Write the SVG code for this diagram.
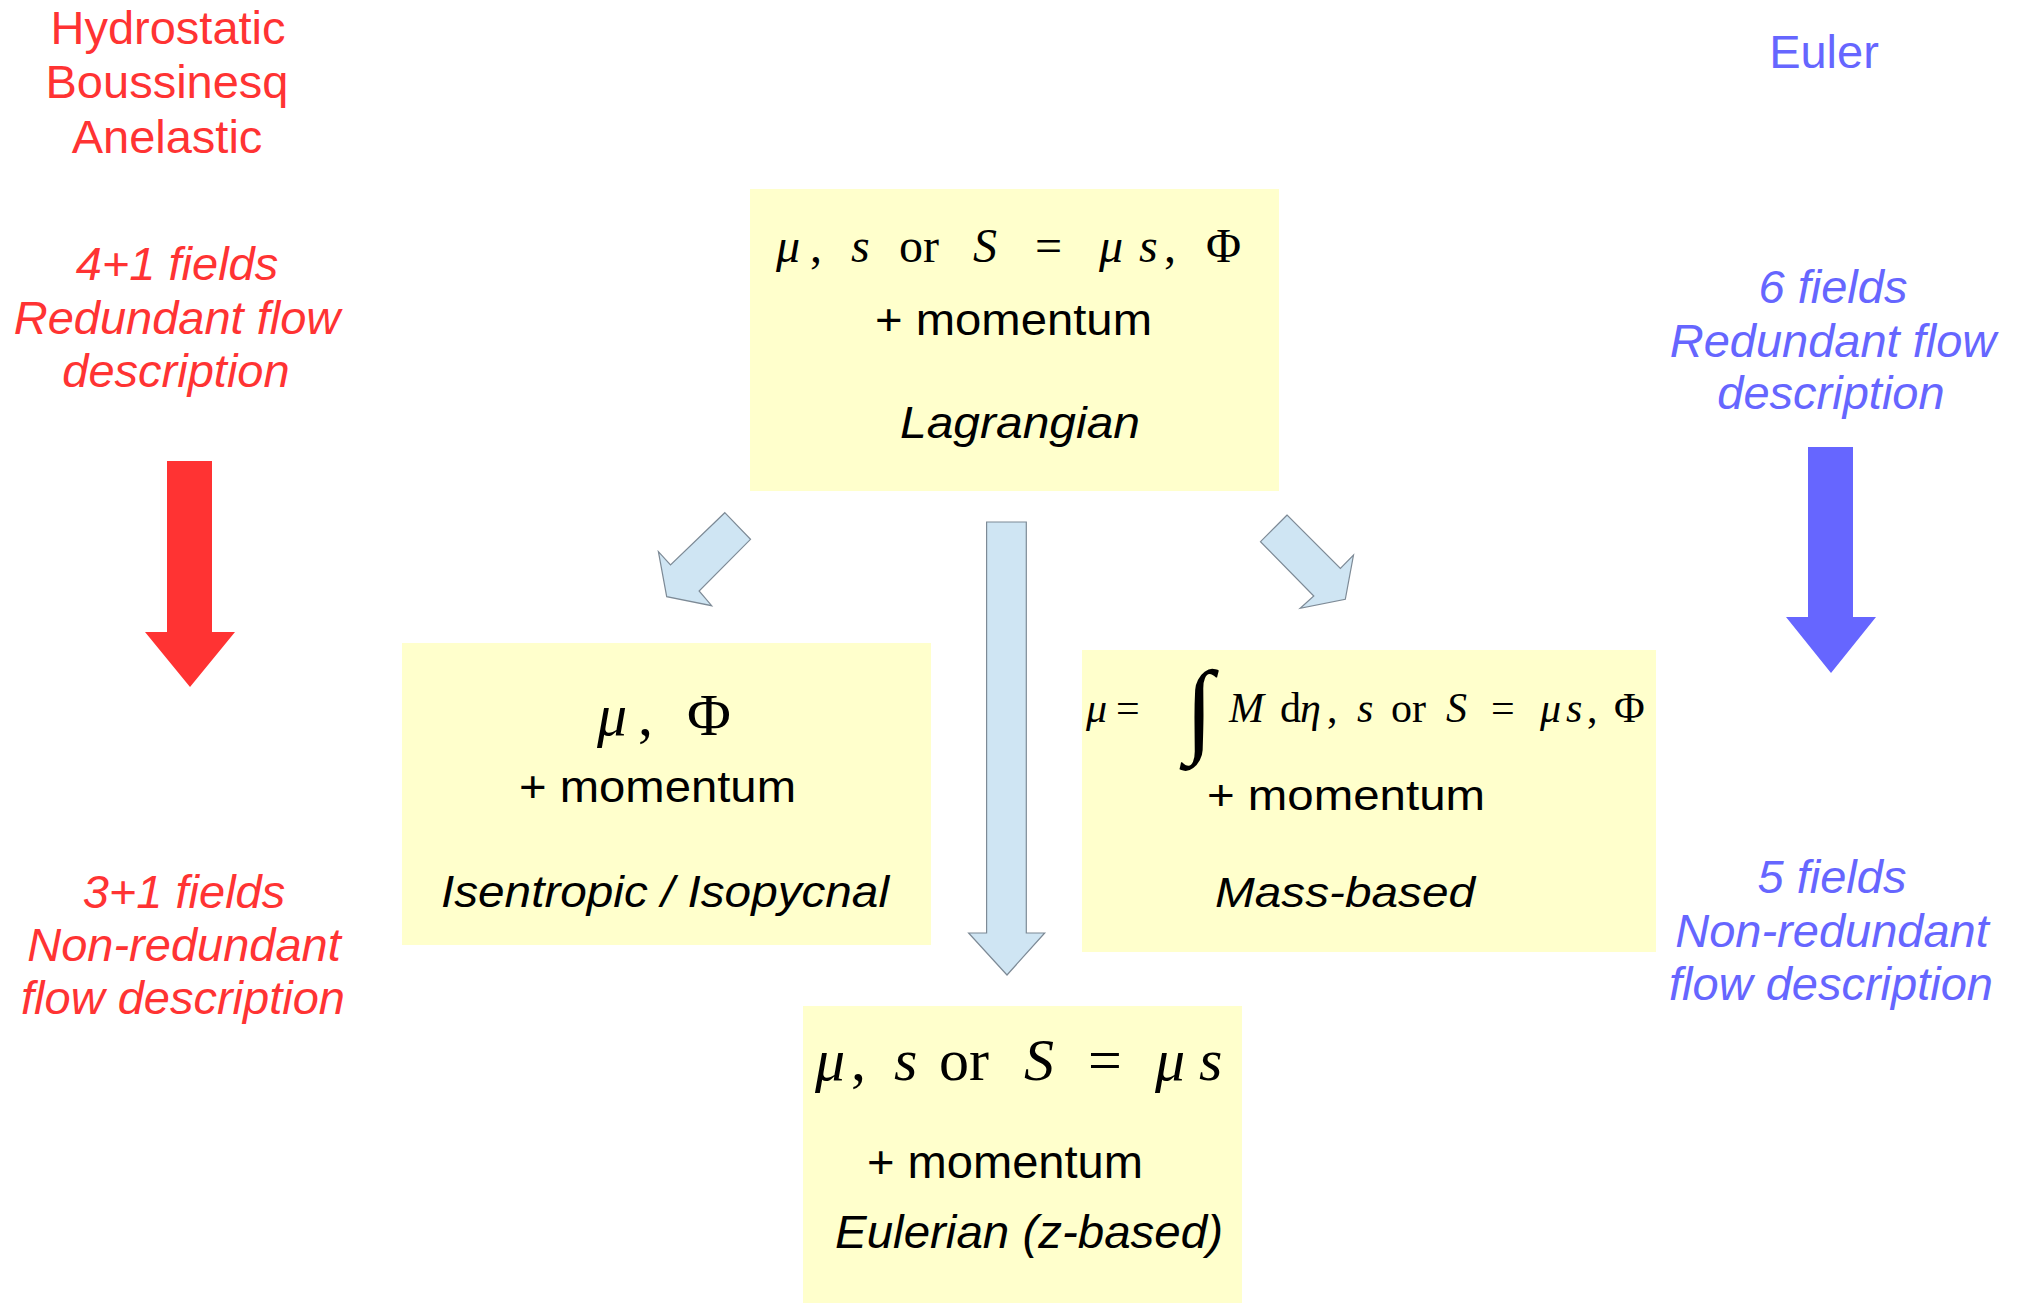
<svg xmlns="http://www.w3.org/2000/svg" width="2020" height="1303" viewBox="0 0 2020 1303">
<style>
.box{fill:#ffffcc;stroke:none}
.sans{font-family:"Liberation Sans",Arial,sans-serif;fill:#000}
.it{font-style:italic}
.math{font-family:"Liberation Serif","Times New Roman",serif;fill:#000}
.mi{font-style:italic}
.red{font-family:"Liberation Sans",Arial,sans-serif;fill:#ff3333;font-size:47px;text-anchor:middle}
.blue{font-family:"Liberation Sans",Arial,sans-serif;fill:#6666ff;font-size:47px;text-anchor:middle}
.flow{fill:#cfe5f3;stroke:#7d8a96;stroke-width:1.2}
</style>
<rect width="2020" height="1303" fill="#ffffff"/>

<g id="labels-left">
<text class="red" x="168" y="44">Hydrostatic</text>
<text class="red" x="167" y="98">Boussinesq</text>
<text class="red" x="167" y="153">Anelastic</text>
<text class="red it" x="177" y="280">4+1 fields</text>
<text class="red it" x="177" y="334">Redundant flow</text>
<text class="red it" x="176" y="387">description</text>
<text class="red it" x="184" y="908">3+1 fields</text>
<text class="red it" x="184" y="961">Non-redundant</text>
<text class="red it" x="183" y="1014">flow description</text>
</g>

<g id="labels-right">
<text class="blue" x="1824" y="68">Euler</text>
<text class="blue it" x="1833" y="303">6 fields</text>
<text class="blue it" x="1833" y="357">Redundant flow</text>
<text class="blue it" x="1831" y="409">description</text>
<text class="blue it" x="1832" y="893">5 fields</text>
<text class="blue it" x="1832" y="947">Non-redundant</text>
<text class="blue it" x="1831" y="1000">flow description</text>
</g>

<g id="connectors">
<polygon fill="#ff3333" points="167,461 212,461 212,632 235,632 190,687 145,632 167,632"/>
<polygon fill="#6666ff" points="1808,447 1853,447 1853,617 1876,617 1831,673 1786,617 1808,617"/>
<polygon class="flow" points="986.6,522 1026.3,522 1026.3,933 1044.7,933 1007,975 968.6,933 986.6,933"/>
<polygon class="flow" points="724.8,512.7 750.5,539.3 699.1,591 711.7,605.7 666.7,596.7 658.4,551.7 670.5,565"/>
<polygon class="flow" points="1287.1,515 1260.5,541.7 1313.8,596 1300.2,608.3 1345.3,599.3 1353.5,555 1340.4,568.3"/>
</g>

<g id="node-lagrangian">
<rect class="box" x="750" y="189" width="529" height="302"/>
<text class="math" font-size="48" y="262"><tspan class="mi" x="776">μ</tspan><tspan x="810">,</tspan><tspan class="mi" x="851">s</tspan><tspan x="899">or</tspan><tspan class="mi" x="973">S</tspan><tspan x="1035">=</tspan><tspan class="mi" x="1099">μ</tspan><tspan class="mi" x="1139">s</tspan><tspan x="1164">,</tspan><tspan x="1206">Φ</tspan></text>
<text class="sans" font-size="44" x="875" y="335" textLength="277" lengthAdjust="spacingAndGlyphs">+ momentum</text>
<text class="sans it" font-size="44" x="900" y="438" textLength="240" lengthAdjust="spacingAndGlyphs">Lagrangian</text>
</g>

<g id="node-isentropic">
<rect class="box" x="402" y="643" width="529" height="302"/>
<text class="math" font-size="60" y="735"><tspan class="mi" x="597">μ</tspan><tspan x="638">,</tspan><tspan x="687">Φ</tspan></text>
<text class="sans" font-size="44" x="519" y="802" textLength="277" lengthAdjust="spacingAndGlyphs">+ momentum</text>
<text class="sans it" font-size="44" x="441" y="907" textLength="448" lengthAdjust="spacingAndGlyphs">Isentropic / Isopycnal</text>
</g>

<g id="node-massbased">
<rect class="box" x="1082" y="650" width="574" height="302"/>
<text class="math" font-size="42" y="722" fill="#222"><tspan class="mi" x="1086">μ</tspan><tspan x="1116">=</tspan><tspan class="mi" x="1229">M</tspan><tspan x="1280">d</tspan><tspan class="mi" x="1300">η</tspan><tspan x="1327">,</tspan><tspan class="mi" x="1357">s</tspan><tspan x="1391">or</tspan><tspan class="mi" x="1446">S</tspan><tspan x="1491">=</tspan><tspan class="mi" x="1540">μ</tspan><tspan class="mi" x="1566">s</tspan><tspan x="1587">,</tspan><tspan x="1614">Φ</tspan></text>
<text class="math" font-size="104" x="1185" y="743" fill="#222">∫</text>
<text class="sans" font-size="42" x="1207" y="810" textLength="278" lengthAdjust="spacingAndGlyphs">+ momentum</text>
<text class="sans it" font-size="42" x="1215" y="907" textLength="260" lengthAdjust="spacingAndGlyphs">Mass-based</text>
</g>

<g id="node-eulerian">
<rect class="box" x="803" y="1006" width="439" height="297"/>
<text class="math" font-size="60" y="1080"><tspan class="mi" x="815">μ</tspan><tspan x="851">,</tspan><tspan class="mi" x="894">s</tspan><tspan x="939">or</tspan><tspan class="mi" x="1024">S</tspan><tspan x="1088">=</tspan><tspan class="mi" x="1155">μ</tspan><tspan class="mi" x="1199">s</tspan></text>
<text class="sans" font-size="47" x="867" y="1178" textLength="276" lengthAdjust="spacingAndGlyphs">+ momentum</text>
<text class="sans it" font-size="47" x="835" y="1248" textLength="388" lengthAdjust="spacingAndGlyphs">Eulerian (z-based)</text>
</g>
</svg>
